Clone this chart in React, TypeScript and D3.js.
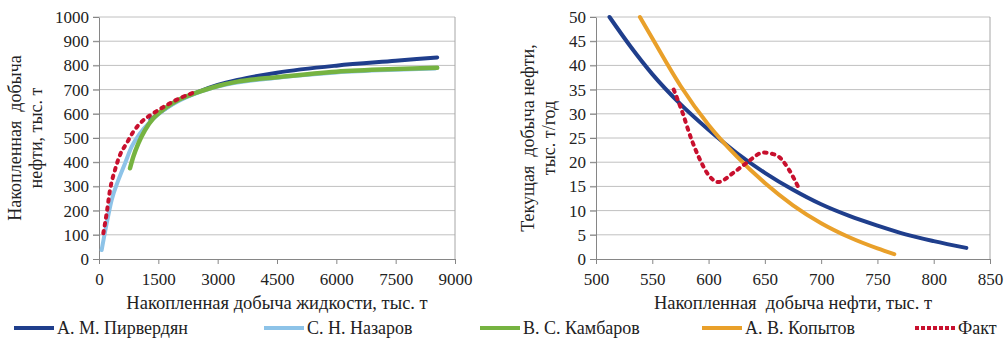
import React, { useEffect, useRef } from 'react';
import * as d3 from 'd3';

type Pt = [number, number];

// Left chart: cumulative oil vs cumulative liquid (thousand t)
const leftPirverdyan: Pt[] = [[1300, 575], [1600, 612], [2000, 655], [2500, 690], [3000, 719], [3500, 740], [4500, 770], [6000, 799], [7500, 819], [8550, 833]];
const leftNazarov: Pt[] = [[67, 37], [194, 147], [320, 244], [489, 326], [657, 395], [826, 464], [1036, 519], [1289, 567], [1584, 609], [2000, 652], [2500, 688], [3000, 713], [4500, 749], [6000, 771], [7500, 782], [8500, 787]];
const leftKambarov: Pt[] = [[784, 375], [868, 423], [995, 478], [1163, 533], [1373, 581], [1668, 623], [2005, 657], [2427, 685], [3000, 715], [3500, 733], [4500, 751], [6000, 774], [7500, 785], [8550, 790]];
const leftFact: Pt[] = [[109, 106], [194, 189], [278, 285], [404, 368], [531, 430], [699, 478], [868, 526], [1079, 567], [1373, 602], [1711, 636], [2090, 668], [2384, 687]];

// Right chart: current oil rate vs cumulative oil
const rightPirverdyan: Pt[] = [[512, 50], [531, 43.8], [550, 38.2], [575, 32], [600, 26.7], [625, 21.9], [650, 17.8], [675, 14.3], [700, 11.3], [725, 8.9], [750, 6.9], [775, 5.1], [800, 3.7], [829, 2.3]];
const rightKopytov: Pt[] = [[539, 50], [550, 45.6], [575, 35.8], [600, 27.7], [625, 21.2], [650, 15.7], [675, 11.1], [700, 7.4], [725, 4.5], [750, 2.2], [765, 1]];
const rightFact: Pt[] = [[569, 35], [576, 30.8], [585, 24.6], [592.4, 20.5], [599.8, 17.4], [608.7, 15.9], [622, 17.8], [634, 19.9], [648.6, 22], [660.5, 21.4], [671, 18.6], [681, 14.2]];

const leftXTicks = [0, 1500, 3000, 4500, 6000, 7500, 9000];
const leftYTicks = [0, 100, 200, 300, 400, 500, 600, 700, 800, 900, 1000];
const rightXTicks = [500, 550, 600, 650, 700, 750, 800, 850];
const rightYTicks = [0, 5, 10, 15, 20, 25, 30, 35, 40, 45, 50];

const COLORS = {
  pirverdyan: '#1f3e8c',
  nazarov: '#8dc3e8',
  kambarov: '#76b341',
  kopytov: '#e9a02a',
  fact: '#c8102e',
};

const legendItems = [
  { name: 'А. М. Пирвердян', color: COLORS.pirverdyan, dashed: false, x: 14 },
  { name: 'С. Н. Назаров', color: COLORS.nazarov, dashed: false, x: 264 },
  { name: 'В. С. Камбаров', color: COLORS.kambarov, dashed: false, x: 480 },
  { name: 'А. В. Копытов', color: COLORS.kopytov, dashed: false, x: 702 },
  { name: 'Факт', color: COLORS.fact, dashed: true, x: 915 },
];

const FONT = 'Liberation Serif, serif';

const App: React.FC = () => {
  const svgRef = useRef<SVGSVGElement>(null);

  useEffect(() => {
    const svg = d3.select(svgRef.current);
    svg.selectAll('*').remove();

    const drawPanel = (opts: {
      left: number; right: number; top: number; bottom: number;
      xDomain: [number, number]; yDomain: [number, number];
      xTicks: number[]; yTicks: number[];
      series: { data: Pt[]; color: string; dashed?: boolean; width: number }[];
      xTitle: string; yTitle: string[]; yTitleX: number;
    }) => {
      const x = d3.scaleLinear().domain(opts.xDomain).range([opts.left, opts.right]);
      const y = d3.scaleLinear().domain(opts.yDomain).range([opts.bottom, opts.top]);
      const g = svg.append('g');

      // gridlines
      g.selectAll('.grid')
        .data(opts.yTicks.filter(t => t !== opts.yDomain[0]))
        .enter()
        .append('line')
        .attr('x1', opts.left - 6)
        .attr('x2', opts.right)
        .attr('y1', d => y(d))
        .attr('y2', d => y(d))
        .style('stroke', '#c0c0c0')
        .style('stroke-width', 1);

      // right border
      g.append('line')
        .attr('x1', opts.right).attr('x2', opts.right)
        .attr('y1', opts.top).attr('y2', opts.bottom)
        .style('stroke', '#a6a6a6');

      // axes
      const xAxis = d3.axisBottom(x).tickValues(opts.xTicks).tickSize(5).tickSizeOuter(0).tickFormat(d => String(d));
      const yAxis = d3.axisLeft(y).tickValues(opts.yTicks).tickSize(6).tickSizeOuter(0).tickFormat(d => String(d));

      const gx = g.append('g').attr('transform', `translate(0,${opts.bottom})`).call(xAxis);
      const gy = g.append('g').attr('transform', `translate(${opts.left},0)`).call(yAxis);
      [gx, gy].forEach(a => {
        a.attr('font-family', FONT).attr('font-size', 17);
        a.selectAll('path, line').style('stroke', '#868686');
        a.selectAll('text').attr('fill', '#222');
      });
      gx.selectAll('text').attr('dy', '0.95em').attr('y', 10);
      gy.selectAll('text').attr('x', -10);

      const line = d3.line<Pt>()
        .x(d => x(d[0]))
        .y(d => y(d[1]))
        .curve(d3.curveMonotoneX);

      opts.series.forEach(s => {
        g.append('path')
          .datum(s.data)
          .attr('d', line)
          .style('fill', 'none')
          .style('stroke', s.color)
          .style('stroke-width', s.width)
          .style('stroke-linecap', 'round')
          .style('stroke-dasharray', s.dashed ? '2.5,5.5' : null);
      });

      // titles
      g.append('text')
        .attr('x', (opts.left + opts.right) / 2)
        .attr('y', 309)
        .attr('text-anchor', 'middle')
        .attr('font-family', FONT)
        .attr('font-size', 18.5)
        .attr('fill', '#222')
        .style('white-space', 'pre')
        .text(opts.xTitle);

      const cy = (opts.top + opts.bottom) / 2;
      opts.yTitle.forEach((t, i) => {
        g.append('text')
          .attr('transform', `translate(${opts.yTitleX + i * 21},${cy}) rotate(-90)`)
          .attr('text-anchor', 'middle')
          .attr('font-family', FONT)
          .attr('font-size', 18)
          .attr('fill', '#222')
          .style('white-space', 'pre')
          .text(t);
      });
    };

    drawPanel({
      left: 99, right: 455, top: 17, bottom: 259,
      xDomain: [0, 9000], yDomain: [0, 1000],
      xTicks: leftXTicks, yTicks: leftYTicks,
      series: [
        { data: leftPirverdyan, color: COLORS.pirverdyan, width: 4 },
        { data: leftNazarov, color: COLORS.nazarov, width: 4 },
        { data: leftKambarov, color: COLORS.kambarov, width: 4.5 },
        { data: leftFact, color: COLORS.fact, width: 4, dashed: true },
      ],
      xTitle: 'Накопленная добыча жидкости, тыс. т',
      yTitle: ['Накопленная  добыча', 'нефти, тыс. т'],
      yTitleX: 21,
    });

    drawPanel({
      left: 596, right: 990, top: 17, bottom: 259,
      xDomain: [500, 850], yDomain: [0, 50],
      xTicks: rightXTicks, yTicks: rightYTicks,
      series: [
        { data: rightPirverdyan, color: COLORS.pirverdyan, width: 4 },
        { data: rightKopytov, color: COLORS.kopytov, width: 4 },
        { data: rightFact, color: COLORS.fact, width: 4, dashed: true },
      ],
      xTitle: 'Накопленная  добыча нефти, тыс. т',
      yTitle: ['Текущая  добыча нефти,', 'тыс. т/год'],
      yTitleX: 534,
    });

    // legend
    const lg = svg.append('g').attr('transform', 'translate(0,328)');
    legendItems.forEach(item => {
      lg.append('line')
        .attr('x1', item.x).attr('x2', item.x + 40)
        .attr('y1', 0).attr('y2', 0)
        .style('stroke', item.color)
        .style('stroke-width', 4)
        .style('stroke-dasharray', item.dashed ? '4,2' : null);
      lg.append('text')
        .attr('x', item.x + 43)
        .attr('y', 6)
        .attr('font-family', FONT)
        .attr('font-size', 18)
        .attr('fill', '#222')
        .text(item.name);
    });
  }, []);

  return (
    <svg
      ref={svgRef}
      width={1007}
      height={350}
      style={{ position: 'absolute', left: 0, top: 0, background: '#fff' }}
    />
  );
};

export default App;
